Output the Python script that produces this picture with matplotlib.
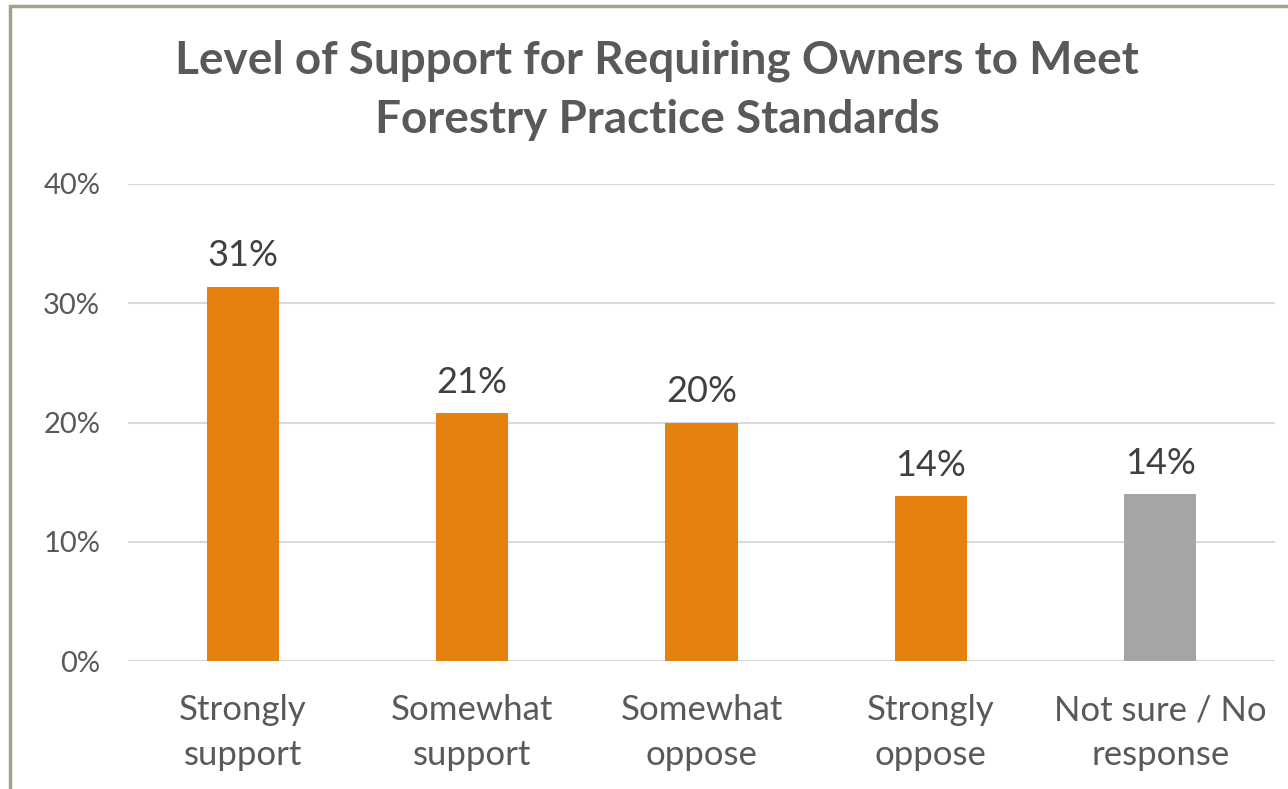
import matplotlib.pyplot as plt
from matplotlib.patches import Rectangle
from matplotlib.ticker import PercentFormatter

plt.rcParams['font.family'] = ['Lato', 'DejaVu Sans']

categories = ['Strongly\nsupport', 'Somewhat\nsupport', 'Somewhat\noppose',
              'Strongly\noppose', 'Not sure / No\nresponse']
values = [31.4, 20.8, 20.0, 13.8, 14.0]
labels = ['31%', '21%', '20%', '14%', '14%']
colors = ['#E5820F', '#E5820F', '#E5820F', '#E5820F', '#A5A5A5']
yticks = [0, 10, 20, 30, 40]

fig = plt.figure(figsize=(12.88, 7.89), dpi=100)

# chart border (cropped on right and bottom like the screenshot)
fig.patches.append(Rectangle((10 / 1288, -0.05), 1.2, 1 - 6 / 789 + 0.05,
                             transform=fig.transFigure, fill=False,
                             edgecolor='#9AA58A', linewidth=2.5))

ax = fig.add_axes([128 / 1288, 1 - 661 / 789, (1275 - 128) / 1288, (661 - 184) / 789])

x = range(len(categories))
bars = ax.bar(x, values, width=0.315, color=colors, zorder=3)

for b, lab in zip(bars, labels):
    ax.text(b.get_x() + b.get_width() / 2, b.get_height() + 1.7, lab,
            ha='center', va='baseline', fontsize=26, color='#404040')

ax.set_xlim(-0.5, len(categories) - 0.5)
ax.set_ylim(0, 40)
ax.set_yticks(yticks)
ax.yaxis.set_major_formatter(PercentFormatter(decimals=0))
ax.set_xticks(list(x))
ax.set_xticklabels(categories, fontsize=25, color='#595959', linespacing=1.5)
ax.tick_params(axis='y', labelsize=21, labelcolor='#595959', length=0, pad=20)
ax.tick_params(axis='x', length=0, pad=24)

ax.grid(axis='y', color='#D9D9D9', linewidth=1.5, zorder=0)
for s in ax.spines.values():
    s.set_visible(False)

fig.text(0.51, 1 - 90 / 789,
         'Level of Support for Requiring Owners to Meet\nForestry Practice Standards',
         ha='center', va='center', fontsize=33, fontweight='bold',
         color='#595959', linespacing=1.5)

fig.savefig('out.png', dpi=100)
